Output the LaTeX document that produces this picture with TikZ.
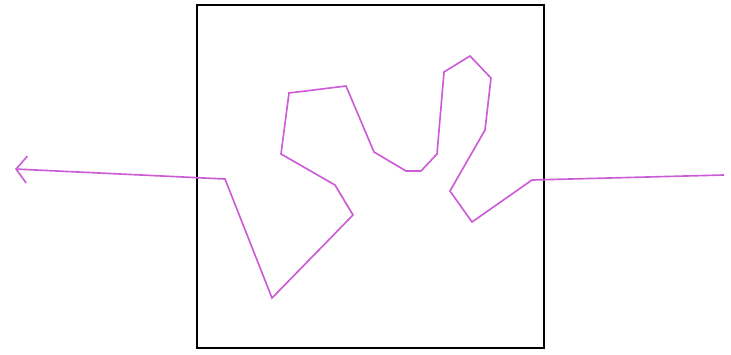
\documentclass[tikz,border=0pt]{standalone}
\usepackage{tikz}
\usetikzlibrary{arrows.meta}
\definecolor{wirecol}{RGB}{204,92,214}
\tikzstyle{wire}=[draw=wirecol,line width=1.4pt,line join=miter]
\tikzstyle{boxline}=[draw=black,line width=1.9pt]

\begin{document}
\begin{tikzpicture}[x=0.03cm,y=-0.03cm]
\useasboundingbox (0,0) rectangle (731,354);
\draw [boxline] (197,5) rectangle (544,348);
\coordinate (in) at (724,175);
\coordinate (out) at (15,169);
\draw [wire,-{Straight Barb[length=3.2mm,width=8mm]}] (in) -- (532,180) -- (472,222) -- (450,191)
    -- (485,130) -- (491,78) -- (470,56) -- (444,72) -- (437,154)
    -- (421,171) -- (406,171) -- (374,152) -- (346,86) -- (289,93)
    -- (281,154) -- (335,185) -- (353,215) -- (272,298) -- (225,179)
    -- (out);
\end{tikzpicture}
\end{document}
